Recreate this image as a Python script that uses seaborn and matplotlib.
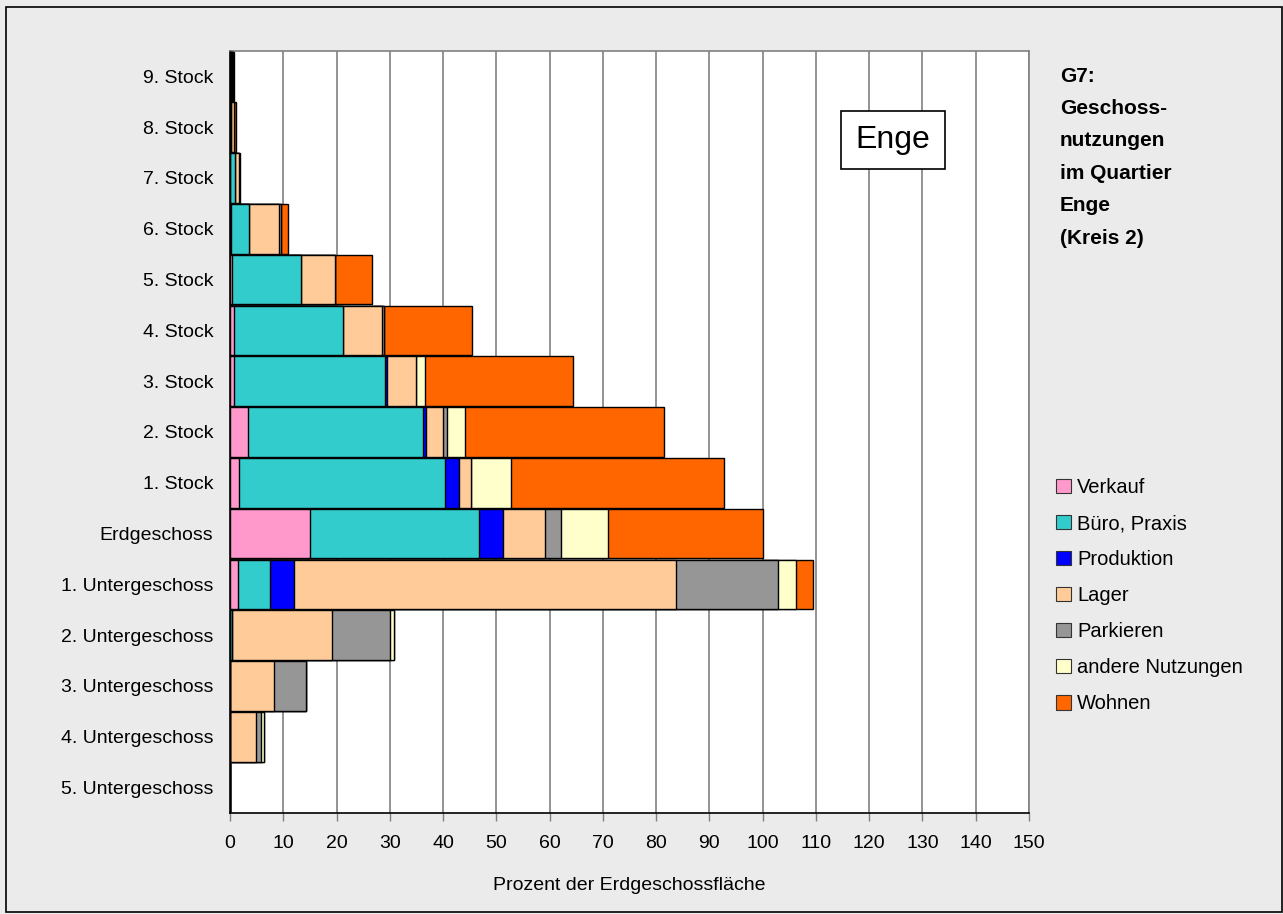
import matplotlib
matplotlib.use("Agg")
import matplotlib.pyplot as plt
import seaborn as sns
import pandas as pd
import numpy as np

# Geschosse von oben nach unten
geschosse = ["9. Stock", "8. Stock", "7. Stock", "6. Stock", "5. Stock", "4. Stock",
             "3. Stock", "2. Stock", "1. Stock", "Erdgeschoss", "1. Untergeschoss",
             "2. Untergeschoss", "3. Untergeschoss", "4. Untergeschoss", "5. Untergeschoss"]

# Prozent der Erdgeschossfläche je Nutzung
verkauf    = [0.0, 0.0, 0.0, 0.2, 0.3, 0.75, 0.75, 3.3, 1.7, 15.0, 1.5, 0.0, 0.0, 0.0, 0.0]
buero      = [0.1, 0.2, 1.0, 3.4, 13.1, 20.5, 28.4, 33.0, 38.6, 31.7, 6.0, 0.3, 0.0, 0.0, 0.0]
produktion = [0.0, 0.0, 0.0, 0.0, 0.0, 0.0, 0.4, 0.5, 2.6, 4.6, 4.6, 0.0, 0.0, 0.0, 0.0]
lager      = [0.3, 0.5, 0.7, 5.6, 6.4, 7.2, 5.3, 3.2, 2.4, 7.9, 71.7, 18.8, 8.2, 4.8, 0.0]
parkieren  = [0.1, 0.0, 0.0, 0.4, 0.0, 0.4, 0.0, 0.8, 0.0, 3.0, 19.1, 10.9, 6.1, 1.1, 0.0]
andere     = [0.0, 0.0, 0.0, 0.0, 0.0, 0.0, 1.8, 3.4, 7.5, 8.7, 3.4, 0.7, 0.0, 0.4, 0.0]
wohnen     = [0.2, 0.4, 0.2, 1.3, 6.8, 16.5, 27.8, 37.2, 40.0, 29.1, 3.1, 0.0, 0.0, 0.0, 0.0]

nutzungen = ["Verkauf", "Büro, Praxis", "Produktion", "Lager", "Parkieren",
             "andere Nutzungen", "Wohnen"]
werte = [verkauf, buero, produktion, lager, parkieren, andere, wohnen]
farben = ["#FF99CC", "#33CCCC", "#0000FF", "#FFCC99", "#969696", "#FFFFCC", "#FF6600"]

titel = ["G7:", "Geschoss-", "nutzungen", "im Quartier", "Enge", "(Kreis 2)"]

sns.set_theme(style="white")
plt.rcParams["font.family"] = ["Liberation Sans", "DejaVu Sans"]
plt.rcParams["text.color"] = "black"
plt.rcParams["axes.labelcolor"] = "black"

W, H = 1283, 914
fig = plt.figure(figsize=(W / 100, H / 100), dpi=100)
fig.patch.set_facecolor("#EBEBEB")
ax = fig.add_axes([230 / W, 1 - 813 / H, 799 / W, 762 / H])
ax.set_facecolor("white")

# gestapelte Balken: kumulierte Summen von hinten nach vorne zeichnen
kumuliert = np.cumsum(np.array(werte), axis=0)
df = pd.DataFrame({"Geschoss": geschosse})
for i in range(len(nutzungen) - 1, -1, -1):
    df["wert"] = kumuliert[i]
    sns.barplot(data=df, x="wert", y="Geschoss", order=geschosse, orient="h",
                color=farben[i], saturation=1, width=0.98, errorbar=None,
                edgecolor="black", linewidth=1.0, ax=ax, zorder=3)

ax.set_xlim(0, 150)
ax.set_ylim(len(geschosse) - 0.5, -0.5)
ax.set_xticks(range(0, 151, 10))
ax.xaxis.grid(True, color="#808080", linewidth=1.2, zorder=0)
ax.yaxis.grid(False)
ax.set_axisbelow(True)
ax.set_xlabel("Prozent der Erdgeschossfläche", fontsize=14, labelpad=18, color="black")
ax.set_ylabel("")
ax.tick_params(axis="x", labelsize=14, length=6, width=1, color="#808080",
               labelcolor="black", direction="out", bottom=True, pad=10)
ax.tick_params(axis="y", labelsize=14, length=0, pad=12, labelcolor="black")
for s in ["top", "right"]:
    ax.spines[s].set_color("#808080")
    ax.spines[s].set_linewidth(1.2)
for s in ["left", "bottom"]:
    ax.spines[s].set_color("black")
    ax.spines[s].set_linewidth(1.2)

# Quartiersname im Diagramm
ax.text(124.5, 1.25, "Enge", fontsize=23, ha="center", va="center", zorder=5, color="black",
        bbox=dict(boxstyle="square,pad=0.45", facecolor="white", edgecolor="black", linewidth=1.2))

# Titel rechts, Zeile für Zeile
for k, zeile in enumerate(titel):
    fig.text(1060 / W, 1 - (76 + k * 32.4) / H, zeile, fontsize=15, fontweight="bold",
             ha="left", va="center", color="black")

# Legende
handles = [plt.Rectangle((0, 0), 1, 1, facecolor=f, edgecolor="#333333", linewidth=0.8)
           for f in farben]
leg = fig.legend(handles, nutzungen, loc="upper left", bbox_to_anchor=(1048 / W, 1 - 470 / H),
                 frameon=False, fontsize=14.5, handlelength=0.75, handleheight=0.75,
                 handletextpad=0.3, labelspacing=0.845, borderaxespad=0)
for t in leg.get_texts():
    t.set_color("black")

# Rahmen um die Grafik
fig.patches.append(plt.Rectangle((6 / W, 2 / H), 1276 / W, 905 / H, transform=fig.transFigure,
                                 fill=False, edgecolor="black", linewidth=1.2))

fig.savefig("out.png", dpi=100, facecolor=fig.get_facecolor())
